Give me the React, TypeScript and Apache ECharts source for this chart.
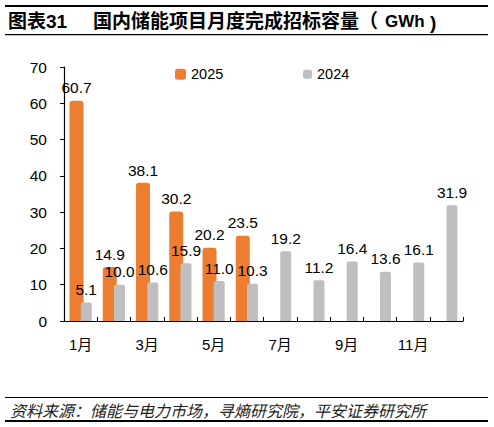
import React, { useEffect, useRef } from "react";
import * as echarts from "echarts";

const months = ["1月", "2月", "3月", "4月", "5月", "6月", "7月", "8月", "9月", "10月", "11月", "12月"];
const values2025: (number | null)[] = [60.7, 14.9, 38.1, 30.2, 20.2, 23.5, null, null, null, null, null, null];
const values2024: number[] = [5.1, 10.0, 10.6, 15.9, 11.0, 10.3, 19.2, 11.2, 16.4, 13.6, 16.1, 31.9];
const yTicks = { min: 0, max: 70, interval: 10 };

const FONT = "'Liberation Sans', Arial, 'Noto Sans CJK SC', sans-serif";

export default function App() {
  const ref = useRef<HTMLDivElement>(null);
  useEffect(() => {
    document.body.style.margin = "0";
    const chart = echarts.init(ref.current!, null, { renderer: "svg" });
    const labelCfg = {
      show: true,
      position: "top" as const,
      distance: 5,
      color: "#000",
      fontSize: 15.5,
      fontFamily: FONT,
      formatter: (p: any) => (p.value == null ? "" : Number(p.value).toFixed(1)),
    };
    const legendBase = {
      top: 62,
      icon: "roundRect",
      textStyle: { fontSize: 14.5, color: "#000", fontFamily: FONT },
    };
    chart.setOption({
      animation: false,
      backgroundColor: "#fff",
      textStyle: { fontFamily: FONT },
      grid: { left: 64, right: 31, top: 67, bottom: 106, containLabel: false },
      legend: [
        { ...legendBase, left: 170, itemWidth: 11, itemHeight: 11, data: ["2025"] },
        { ...legendBase, left: 298, itemWidth: 9, itemHeight: 9, data: ["2024"] },
      ],
      xAxis: {
        type: "category",
        data: months,
        axisLine: { show: true, lineStyle: { color: "#000", width: 1.2 } },
        axisTick: { show: true, inside: true, length: 4, interval: 0, alignWithLabel: false, lineStyle: { color: "#000" } },
        axisLabel: { interval: 1, margin: 16, fontSize: 15, color: "#000", fontFamily: FONT },
        splitLine: { show: false },
      },
      yAxis: {
        type: "value",
        min: yTicks.min,
        max: yTicks.max,
        interval: yTicks.interval,
        axisLine: { show: true, lineStyle: { color: "#000", width: 1.2 } },
        axisTick: { show: true, inside: false, length: 4, lineStyle: { color: "#000" } },
        axisLabel: { margin: 17, fontSize: 15.5, color: "#000", fontFamily: FONT },
        splitLine: { show: false },
      },
      series: [
        {
          name: "2025",
          type: "bar",
          data: values2025,
          barWidth: 14,
          barGap: "-20%",
          itemStyle: { color: "#ED7D31", borderRadius: [3, 3, 0, 0] },
          label: labelCfg,
          z: 2,
        },
        {
          name: "2024",
          type: "bar",
          data: values2024,
          barWidth: 11,
          barGap: "-20%",
          itemStyle: { color: "#BFBFBF", borderRadius: [2, 2, 0, 0] },
          label: labelCfg,
          z: 3,
        },
      ],
      graphic: [
        { type: "rect", shape: { x: 5, y: 5, width: 483, height: 2 }, style: { fill: "#000" } },
        {
          type: "text",
          x: 8,
          y: 21,
          style: { text: "图表31", fontSize: 19, fontWeight: "bold", fill: "#000", fontFamily: FONT, textVerticalAlign: "middle" },
        },
        {
          type: "text",
          x: 93,
          y: 21,
          style: { text: "国内储能项目月度完成招标容量（", fontSize: 19, fontWeight: "bold", fill: "#000", fontFamily: FONT, textVerticalAlign: "middle" },
        },
        {
          type: "text",
          x: 385,
          y: 21,
          style: { text: "GWh", fontSize: 17, fontWeight: "bold", fill: "#000", fontFamily: FONT, textVerticalAlign: "middle" },
        },
        {
          type: "text",
          x: 430,
          y: 22,
          style: { text: ")", fontSize: 19, fontWeight: "bold", fill: "#000", fontFamily: FONT, textVerticalAlign: "middle" },
        },
        { type: "rect", shape: { x: 5, y: 34, width: 483, height: 1.2 }, style: { fill: "#000" } },
        { type: "rect", shape: { x: 5, y: 397, width: 483, height: 1 }, style: { fill: "#000" } },
        {
          type: "text",
          x: 10,
          y: 411,
          style: { text: "资料来源：储能与电力市场，寻熵研究院，平安证券研究所", fontSize: 16, fontStyle: "italic", fill: "#222", fontFamily: FONT, textVerticalAlign: "middle" },
        },
        { type: "rect", shape: { x: 5, y: 420, width: 483, height: 2 }, style: { fill: "#000" } },
      ],
    });
    return () => chart.dispose();
  }, []);
  return <div ref={ref} style={{ position: "absolute", left: 0, top: 0, width: 494, height: 427 }} />;
}
